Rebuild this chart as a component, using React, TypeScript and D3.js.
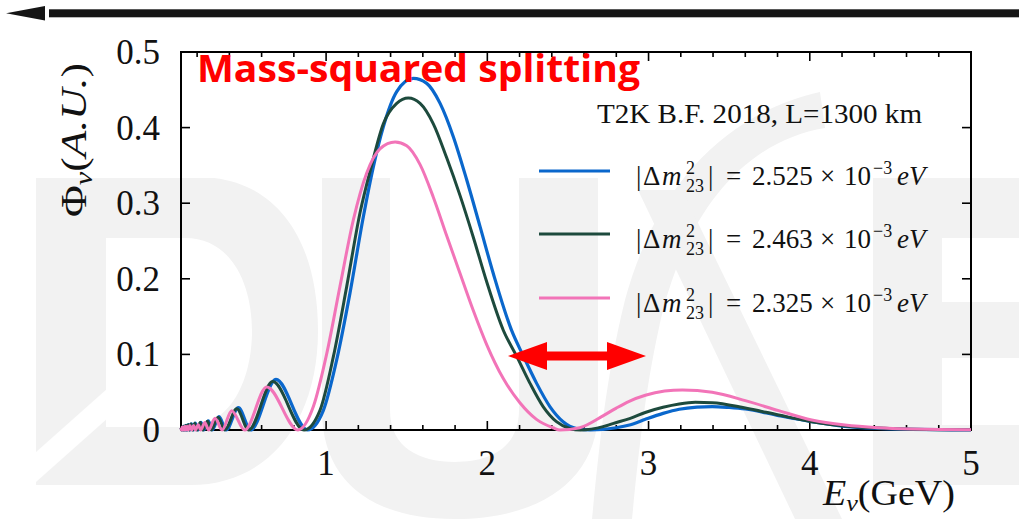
import React from "react";
import * as d3 from "d3";

// ---------- data ----------
const energyTicks = [1, 2, 3, 4, 5];
const energyTickLabels = ["1", "2", "3", "4", "5"];
const fluxTicks = [0, 0.1, 0.2, 0.3, 0.4, 0.5];
const fluxTickLabels = ["0", "0.1", "0.2", "0.3", "0.4", "0.5"];
const seriesLabels = ["2.525", "2.463", "2.325"];
const seriesColors = ["#0a67cc", "#1d4a3d", "#f274b8"];

// |Δm²23| = 2.525e-3 eV²  [E (GeV), Φ (A.U.)]
const flux2525: [number, number][] = [
  [0.1, 0.003], [0.106, 0.0], [0.11, 0.004], [0.115, 0.0], [0.12, 0.005], [0.126, 0.0],
  [0.132, 0.006], [0.139, 0.0], [0.147, 0.007], [0.156, 0.0], [0.165, 0.008], [0.176, 0.0],
  [0.189, 0.009], [0.204, 0.0], [0.224, 0.01], [0.241, 0.0], [0.27, 0.012], [0.294, 0.0],
  [0.336, 0.0176], [0.38, 0.0], [0.456, 0.0295], [0.532, 0.0], [0.689, 0.067], [0.885, 0.0],
  [0.983, 0.026], [1.066, 0.093], [1.148, 0.181], [1.231, 0.282], [1.293, 0.348], [1.355, 0.401],
  [1.438, 0.4475], [1.541, 0.465], [1.624, 0.4585], [1.707, 0.432], [1.789, 0.388], [1.872, 0.331],
  [1.955, 0.269], [2.037, 0.207], [2.15, 0.132], [2.223, 0.098], [2.305, 0.062], [2.388, 0.031],
  [2.47, 0.011], [2.553, 0.002], [2.64, 0.0], [2.8, 0.003], [2.882, 0.0066], [2.984, 0.0145],
  [3.09, 0.022], [3.19, 0.0275], [3.3, 0.0303], [3.395, 0.031], [3.5, 0.0298], [3.6, 0.0278],
  [3.807, 0.019], [4.012, 0.011], [4.218, 0.0049], [4.42, 0.0022], [4.63, 0.0009], [4.8, 0.0004],
  [5.0, 0.0002],
];

// |Δm²23| = 2.463e-3 eV²
const flux2463: [number, number][] = [
  [0.1, 0.003], [0.104, 0.0], [0.108, 0.004], [0.113, 0.0], [0.118, 0.005], [0.123, 0.0],
  [0.129, 0.006], [0.136, 0.0], [0.144, 0.007], [0.152, 0.0], [0.161, 0.008], [0.172, 0.0],
  [0.185, 0.009], [0.199, 0.0], [0.219, 0.01], [0.235, 0.0], [0.264, 0.0115], [0.287, 0.0],
  [0.33, 0.017], [0.371, 0.0], [0.446, 0.028], [0.52, 0.0], [0.669, 0.064], [0.863, 0.0],
  [0.962, 0.026], [1.045, 0.097], [1.128, 0.19], [1.21, 0.287], [1.282, 0.35], [1.355, 0.405],
  [1.438, 0.432], [1.51, 0.439], [1.583, 0.432], [1.665, 0.405], [1.748, 0.36], [1.831, 0.31],
  [1.913, 0.255], [1.996, 0.196], [2.099, 0.132], [2.181, 0.098], [2.264, 0.062], [2.346, 0.031],
  [2.429, 0.011], [2.511, 0.002], [2.578, 0.0], [2.718, 0.0044], [2.778, 0.0085], [2.882, 0.015],
  [2.984, 0.0235], [3.09, 0.03], [3.19, 0.0344], [3.29, 0.0366], [3.395, 0.0362], [3.6, 0.029],
  [3.807, 0.0198], [4.012, 0.011], [4.218, 0.0053], [4.42, 0.0026], [4.63, 0.001], [4.8, 0.0004],
  [5.0, 0.0002],
];

// |Δm²23| = 2.325e-3 eV²
const flux2325: [number, number][] = [
  [0.1, 0.003], [0.103, 0.0], [0.107, 0.004], [0.111, 0.0], [0.115, 0.004], [0.12, 0.0],
  [0.125, 0.005], [0.131, 0.0], [0.138, 0.005], [0.146, 0.0], [0.155, 0.006], [0.166, 0.0],
  [0.178, 0.006], [0.19, 0.0], [0.207, 0.007], [0.222, 0.0], [0.248, 0.01], [0.271, 0.0],
  [0.311, 0.0154], [0.355, 0.0], [0.414, 0.0256], [0.495, 0.0], [0.632, 0.057], [0.825, 0.0],
  [0.921, 0.031], [1.004, 0.101], [1.086, 0.19], [1.169, 0.278], [1.252, 0.34], [1.334, 0.372],
  [1.428, 0.381], [1.5, 0.376], [1.583, 0.351], [1.665, 0.308], [1.748, 0.257], [1.831, 0.207],
  [1.913, 0.158], [1.996, 0.113], [2.099, 0.068], [2.202, 0.036], [2.305, 0.014], [2.408, 0.003],
  [2.45, 0.0], [2.573, 0.003], [2.72, 0.019], [2.8, 0.029], [2.88, 0.038], [2.98, 0.046],
  [3.1, 0.0515], [3.21, 0.053], [3.395, 0.0498], [3.6, 0.0388], [3.807, 0.0256], [4.012, 0.0132],
  [4.218, 0.0066], [4.424, 0.0031], [4.63, 0.0013], [4.8, 0.0005], [5.0, 0.0002],
];

const seriesData = [flux2525, flux2463, flux2325];

// ---------- layout ----------
const W = 1019;
const H = 519;
const PL = 181, PR = 971, PT = 52, PB = 430;
const SERIF = "'Liberation Serif', 'DejaVu Serif', serif";
const WM = "#f2f2f2";

function LegendLabel({ y, value }: { y: number; value: string }) {
  const b = y + 14;
  return (
    <g fontFamily={SERIF} fill="#111">
      <text y={b} fontSize={27}>
        <tspan x={636}>|</tspan>
        <tspan x={643}>Δ</tspan>
        <tspan x={662} fontStyle="italic">m</tspan>
      </text>
      <text x={686} y={b - 11} fontSize={18}>2</text>
      <text x={686} y={b + 7} fontSize={18}>23</text>
      <text y={b} fontSize={27}>
        <tspan x={708}>|</tspan>
        <tspan x={726}>=</tspan>
        <tspan x={752}>{value}</tspan>
        <tspan x={820}>×</tspan>
        <tspan x={844}>10</tspan>
      </text>
      <text x={873} y={b - 11} fontSize={18}>−3</text>
      <text x={897} y={b} fontSize={27} fontStyle="italic">eV</text>
    </g>
  );
}

export default function App() {
  const x = d3.scaleLinear().domain([0.1, 5]).range([PL, PR]);
  const y = d3.scaleLinear().domain([0, 0.5]).range([PB, PT]);
  const line = d3
    .line<[number, number]>()
    .x((d) => x(d[0]))
    .y((d) => y(d[1]))
    .curve(d3.curveMonotoneX);

  const minorX = d3.range(0.2, 5.0001, 0.2).filter((v) => Math.abs(v - Math.round(v)) > 1e-6);
  const legendY = [171, 234, 298];

  return (
    <svg
      width={W}
      height={H}
      viewBox={`0 0 ${W} ${H}`}
      style={{ position: "absolute", left: 0, top: 0, background: "#fff" }}
    >
      <rect x={0} y={0} width={W} height={H} fill="#fff" />

      {/* DUNE watermark */}
      <g fill={WM}>
        <path
          fillRule="evenodd"
          d="M36,178 H214 C282,186 318,246 318,331 C318,420 270,485 190,485 H36 Z M106,238 H185 C232,238 252,285 252,331 C252,378 232,427 185,427 H106 Z"
        />
        <path d="M322,178 H390 V410 C390,448 420,462 455,462 C490,462 519,448 519,410 V178 H598 V410 C598,480 540,519 455,519 C370,519 322,480 322,410 Z" />
        <path d="M820,92 C740,110 660,170 625,300 C605,380 598,460 592,519 L632,519 C638,460 645,385 663,310 C692,200 752,140 825,128 Z" />
        <path d="M638,190 L682,190 L842,519 L795,519 Z" />
        <path d="M873,178 H1019 V238 H942 V302 H1019 V358 H942 V425 H1019 V485 H873 Z" />
      </g>
      <path d="M36,452 L108,388 L108,418 L36,482 Z" fill="#fff" />

      {/* top black arrow */}
      <rect x={49} y={9.3} width={W - 49} height={8} fill="#151515" />
      <path d="M6,13.3 L45,6 L45,20.6 Z" fill="#151515" />

      {/* frame */}
      <rect x={PL} y={PT} width={PR - PL} height={PB - PT} fill="none" stroke="#000" strokeWidth={2} />

      {/* ticks */}
      <g stroke="#000" strokeWidth={1.6}>
        {energyTicks.map((t) => (
          <g key={`xm${t}`}>
            <line x1={x(t)} x2={x(t)} y1={PB} y2={PB - 9} />
            <line x1={x(t)} x2={x(t)} y1={PT} y2={PT + 9} />
          </g>
        ))}
        {minorX.map((t) => (
          <g key={`xn${t}`}>
            <line x1={x(t)} x2={x(t)} y1={PB} y2={PB - 5} />
            <line x1={x(t)} x2={x(t)} y1={PT} y2={PT + 5} />
          </g>
        ))}
        {fluxTicks.slice(1, -1).map((t) => (
          <g key={`y${t}`}>
            <line x1={PL} x2={PL + 9} y1={y(t)} y2={y(t)} />
            <line x1={PR} x2={PR - 9} y1={y(t)} y2={y(t)} />
          </g>
        ))}
      </g>

      {/* tick labels */}
      <g fontFamily={SERIF} fontSize={35} fill="#111">
        {energyTicks.map((t, i) => (
          <text key={`xl${t}`} x={x(t)} y={475} textAnchor="middle">
            {energyTickLabels[i]}
          </text>
        ))}
        {fluxTicks.map((t, i) => (
          <text key={`yl${t}`} x={160} y={y(t) + 12} textAnchor="end">
            {fluxTickLabels[i]}
          </text>
        ))}
      </g>

      {/* axis titles */}
      <text
        transform="translate(86,140) rotate(-90)"
        textAnchor="middle"
        fontFamily={SERIF}
        fontSize={36}
        fill="#111"
        textLength={154}
        lengthAdjust="spacingAndGlyphs"
      >
        Φ<tspan fontStyle="italic" fontSize={25} dy={6}>ν</tspan>
        <tspan dy={-6}>(</tspan>
        <tspan fontStyle="italic">A.U.</tspan>)
      </text>
      <text
        x={823}
        y={505}
        fontFamily={SERIF}
        fontSize={35}
        fill="#111"
        textLength={132}
        lengthAdjust="spacingAndGlyphs"
      >
        <tspan fontStyle="italic">E</tspan>
        <tspan fontStyle="italic" fontSize={24} dy={6}>ν</tspan>
        <tspan dy={-6}>(GeV)</tspan>
      </text>

      {/* curves */}
      {seriesData.map((s, i) => (
        <path
          key={`c${i}`}
          d={line(s) || ""}
          fill="none"
          stroke={seriesColors[i]}
          strokeWidth={i === 0 ? 3.2 : 3}
          strokeLinejoin="round"
        />
      ))}

      {/* title */}
      <text
        x={197}
        y={82}
        fontFamily="'Open Sans', 'Noto Sans', sans-serif"
        fontWeight={700}
        fontSize={37}
        fill="#ff0000"
        textLength={443}
        lengthAdjust="spacingAndGlyphs"
      >
        Mass-squared splitting
      </text>

      {/* annotation */}
      <text
        x={597}
        y={123}
        fontFamily={SERIF}
        fontSize={27}
        fill="#111"
        textLength={325}
        lengthAdjust="spacingAndGlyphs"
      >
        T2K B.F. 2018, L=1300 km
      </text>

      {/* legend */}
      {seriesLabels.map((lab, i) => (
        <g key={`lg${i}`}>
          <line x1={539} x2={610} y1={legendY[i]} y2={legendY[i]} stroke={seriesColors[i]} strokeWidth={3.2} />
          <LegendLabel y={legendY[i]} value={lab} />
        </g>
      ))}

      {/* red double arrow */}
      <path
        d="M508,356 L547,342 L547,351.5 L607,351.5 L607,342 L646,356 L607,370 L607,360.5 L547,360.5 L547,370 Z"
        fill="#ff0000"
      />
    </svg>
  );
}
